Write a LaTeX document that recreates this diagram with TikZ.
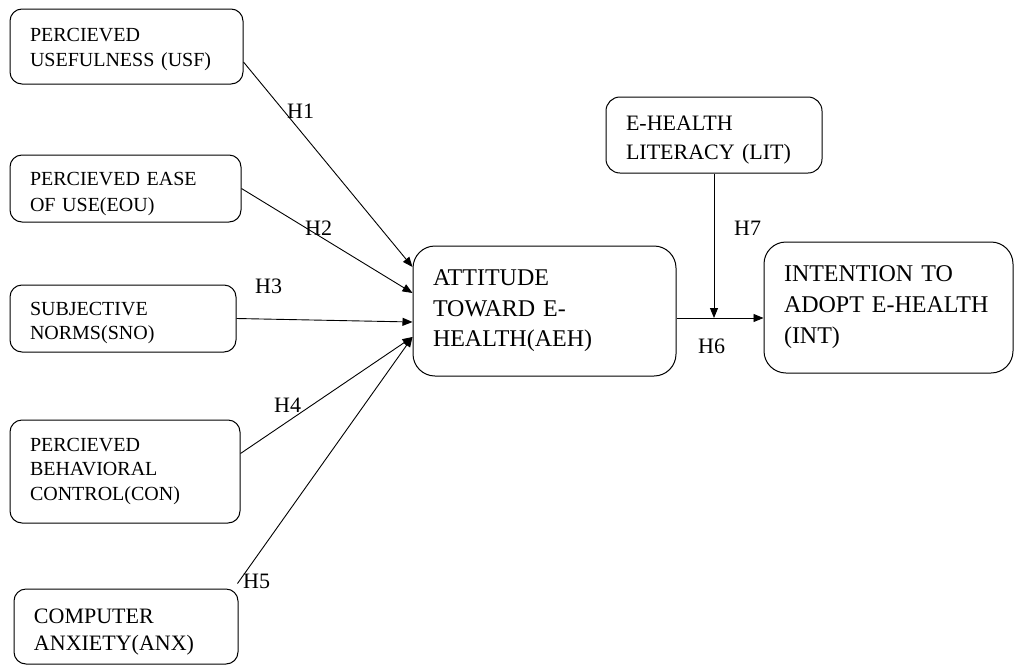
\documentclass[tikz,border=0pt]{standalone}
\usepackage{fontspec}
\setmainfont{Liberation Serif}
\usetikzlibrary{arrows.meta,calc}

\begin{document}
\begin{tikzpicture}[x=1pt,y=-1pt,
  box/.style={draw, rounded corners=12pt, line width=1pt, align=left, inner xsep=20pt, inner ysep=0pt},
  bigbox/.style={box, rounded corners=22pt},
  lift/.style={execute at begin node={\rule{0pt}{#1}}},
  arr/.style={-{Triangle[length=10pt,width=8pt]}, line width=0.9pt},
  hyp/.style={anchor=base west, inner sep=0pt, font=\fontsize{22}{26}\selectfont}]
\useasboundingbox (0,0) rectangle (1015,667);

%% predictors, left column
\node[box, lift=20pt, text width=193pt, minimum height=75pt, font=\fontsize{20}{25}\selectfont] (usf) at (126.5,46.5) {PERCIEVED\\USEFULNESS (USF)};
\node[box, lift=25pt, text width=191pt, minimum height=67pt, font=\fontsize{20}{26}\selectfont] (eou) at (125.5,188.5) {PERCIEVED EASE\\OF USE(EOU)};
\node[box, lift=23pt, text width=186pt, minimum height=67pt, font=\fontsize{20}{24}\selectfont] (sno) at (123,318.5) {SUBJECTIVE\\NORMS(SNO)};
\node[box, text width=190pt, minimum height=103pt, font=\fontsize{20}{24.5}\selectfont] (con) at (125,471.5) {PERCIEVED\\BEHAVIORAL\\CONTROL(CON)};
\node[box, lift=26.5pt, text width=184pt, minimum height=75pt, font=\fontsize{22}{27}\selectfont] (anx) at (126,626.5) {COMPUTER\\ANXIETY(ANX)};

%% attitude, intention and the moderator
\node[bigbox, text width=223pt, minimum height=130pt, font=\fontsize{24}{30.5}\selectfont] (aeh) at (544.5,311) {ATTITUDE\\TOWARD E-\\HEALTH(AEH)};
\node[bigbox, text width=209pt, minimum height=131pt, font=\fontsize{24}{31}\selectfont] (int) at (888.5,307.5) {INTENTION TO\\ADOPT E-HEALTH\\(INT)};
\node[box, lift=24.5pt, rounded corners=14pt, text width=176pt, minimum height=76pt, font=\fontsize{22}{29}\selectfont] (lit) at (714,135) {E-HEALTH\\LITERACY (LIT)};

%% H1--H5 into AEH
\draw[arr] ($(usf.east)+(0,15.5)$) -- ($(aeh.west)+(0,-44)$);
\draw[arr] (eou.east) -- ($(aeh.west)+(0,-18)$);
\draw[arr] (sno.east) -- ($(aeh.west)+(0,11)$);
\draw[arr] ($(con.east)+(0,-18)$) -- ($(aeh.west)+(0,26)$);
\draw[arr] ($(anx.north east)+(-1,-5)$) -- ($(aeh.west)+(0,26)$);

%% H6 and the H7 moderation
\coordinate (h6s) at ($(aeh.east)+(0,7)$);
\draw[arr] (h6s) -- (h6s -| int.west);
\draw[arr] (lit.south) -- (lit.south |- h6s);

%% hypothesis labels
\node[hyp] (h1) at (287,118) {H1};
\node[hyp] (h2) at (305,235) {H2};
\node[hyp] (h3) at (255,293) {H3};
\node[hyp] (h4) at (274,412) {H4};
\node[hyp] (h5) at (243,588) {H5};
\node[hyp] (h6) at (698,353) {H6};
\node[hyp] (h7) at (734,235) {H7};
\end{tikzpicture}
\end{document}
